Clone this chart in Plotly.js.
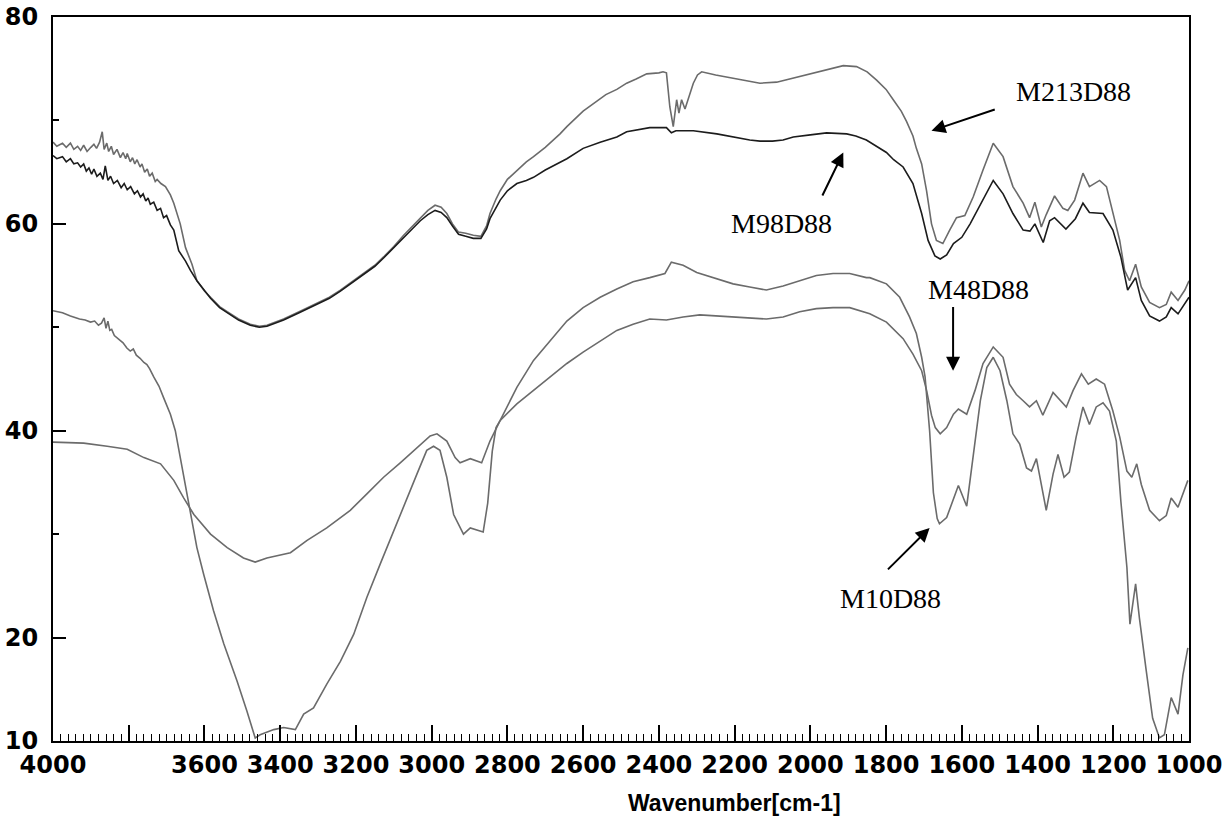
<!DOCTYPE html>
<html>
<head>
<meta charset="utf-8">
<script src="https://cdn.plot.ly/plotly-3.0.1.min.js"></script>
<style>
html,body{margin:0;padding:0;background:#fff;}
#chart{width:1231px;height:821px;}
</style>
</head>
<body>
<div id="chart"></div>
<script>
// ---- data (wavenumber cm-1, transmittance %) ----
const wn213 = [4000,3990,3975,3965,3954,3945,3935,3927,3919,3910,3900,3892,3885,3877,3870,3865,3858,3853,3846,3840,3831,3822,3815,3808,3804,3796,3790,3784,3778,3770,3765,3758,3751,3745,3738,3730,3725,3715,3703,3690,3681,3672,3664,3650,3633,3620,3600,3584,3560,3540,3510,3479,3455,3435,3410,3391,3350,3303,3270,3241,3210,3180,3150,3127,3100,3074,3050,3030,3010,2991,2975,2960,2945,2929,2910,2890,2870,2855,2846,2830,2819,2800,2775,2750,2731,2700,2661,2643,2600,2574,2540,2511,2485,2460,2432,2400,2389,2380,2371,2362,2353,2347,2340,2331,2320,2309,2298,2287,2250,2221,2180,2133,2089,2045,2001,1960,1913,1878,1850,1825,1800,1781,1760,1746,1729,1720,1706,1693,1680,1667,1650,1632,1614,1592,1570,1544,1517,1491,1465,1438,1421,1407,1390,1377,1355,1333,1320,1302,1280,1263,1236,1218,1201,1183,1170,1157,1141,1126,1104,1078,1060,1047,1029,1011,1000];
const t213 = [67.9,67.5,67.8,67.4,67.8,67.2,67.5,67.1,67.6,67.0,67.4,67.7,67.3,67.9,68.9,67.2,67.8,67.0,67.5,66.7,67.2,66.4,66.9,66.3,66.8,66.0,66.4,65.8,66.2,65.5,65.8,65.0,65.3,64.6,64.9,64.1,64.3,63.9,63.6,62.8,62.0,61.0,60.0,57.7,56.1,54.5,53.5,52.9,52.0,51.5,50.8,50.3,50.1,50.2,50.5,50.8,51.5,52.3,52.9,53.6,54.4,55.2,56.0,56.8,57.8,58.9,59.8,60.6,61.3,61.8,61.6,61.0,60.0,59.2,59.1,58.9,58.8,59.8,61.0,62.4,63.2,64.3,65.2,66.0,66.5,67.4,68.7,69.4,70.9,71.6,72.5,73.0,73.6,74.0,74.5,74.6,74.7,74.6,71.3,69.4,72.0,70.7,72.0,71.1,72.4,73.6,74.4,74.7,74.4,74.2,73.9,73.6,73.7,74.1,74.5,74.9,75.3,75.2,74.7,73.9,73.0,72.0,70.9,69.9,68.5,67.3,65.8,63.2,60.0,58.4,58.1,59.4,60.6,60.8,62.6,65.2,67.8,66.5,63.6,62.0,60.6,62.1,59.7,60.9,62.7,61.5,61.3,62.3,64.9,63.6,64.2,63.6,61.0,58.4,55.5,54.5,56.1,53.9,52.4,51.9,52.2,53.4,52.6,53.6,54.5];

const wn98 = [4000,3990,3975,3965,3954,3945,3935,3927,3919,3912,3905,3898,3892,3884,3875,3868,3862,3855,3848,3840,3830,3820,3812,3804,3795,3785,3777,3769,3762,3755,3749,3743,3734,3725,3716,3708,3700,3690,3681,3668,3650,3637,3620,3602,3584,3560,3540,3510,3479,3455,3435,3410,3391,3350,3303,3270,3241,3210,3180,3150,3127,3100,3074,3050,3030,3010,2991,2975,2960,2945,2929,2910,2890,2870,2855,2846,2830,2819,2800,2775,2750,2731,2700,2661,2643,2600,2555,2511,2485,2424,2398,2380,2367,2355,2336,2309,2247,2221,2160,2133,2100,2072,2045,2000,1957,1904,1880,1852,1830,1799,1780,1755,1729,1706,1689,1671,1657,1640,1622,1600,1578,1544,1517,1491,1465,1438,1420,1407,1385,1368,1355,1325,1300,1280,1263,1227,1201,1180,1162,1141,1126,1104,1078,1060,1047,1029,1011,1000];
const t98 = [66.6,66.3,66.5,66.0,66.3,65.8,65.9,65.5,65.8,65.1,65.4,64.8,65.3,64.6,64.9,64.3,65.6,64.2,64.6,63.9,64.2,63.5,63.9,63.3,63.6,62.9,63.2,62.6,62.9,62.2,62.5,61.9,62.1,61.3,61.5,60.6,60.8,59.9,59.4,57.4,56.4,55.5,54.5,53.6,52.8,51.9,51.4,50.7,50.2,50.0,50.1,50.4,50.7,51.4,52.2,52.8,53.5,54.3,55.1,55.9,56.7,57.7,58.7,59.6,60.3,60.9,61.3,61.1,60.6,59.8,59.0,58.8,58.6,58.6,59.5,60.5,61.6,62.3,63.2,63.9,64.2,64.5,65.2,66.0,66.3,67.3,67.9,68.4,68.9,69.3,69.3,69.3,68.8,69.0,69.0,69.0,68.7,68.5,68.1,68.0,68.0,68.1,68.4,68.6,68.8,68.7,68.5,68.1,67.6,66.9,66.2,65.5,63.9,61.0,58.4,56.9,56.6,57.0,58.1,58.7,60.0,62.3,64.2,62.9,61.0,59.4,59.3,60.0,58.2,60.3,60.6,59.5,60.5,62.0,61.1,61.0,59.4,56.8,53.6,54.8,52.6,51.1,50.6,51.0,51.9,51.3,52.3,52.9];

const wn48 = [4000,3919,3857,3804,3760,3716,3681,3655,3628,3584,3540,3497,3466,3435,3373,3329,3277,3215,3171,3127,3083,3039,3004,2986,2960,2938,2925,2898,2868,2846,2819,2775,2731,2687,2643,2600,2555,2511,2468,2424,2380,2336,2292,2247,2204,2160,2116,2072,2028,1984,1940,1896,1843,1799,1755,1729,1706,1693,1680,1670,1657,1640,1622,1609,1587,1565,1544,1517,1491,1474,1456,1438,1421,1403,1386,1359,1341,1324,1306,1284,1266,1245,1223,1201,1183,1164,1151,1138,1126,1104,1078,1060,1047,1029,1003];
const t48 = [38.9,38.8,38.5,38.2,37.4,36.8,35.2,33.5,31.9,30.0,28.7,27.7,27.3,27.7,28.2,29.4,30.6,32.3,33.9,35.5,36.9,38.4,39.5,39.7,39.0,37.4,36.9,37.3,36.9,39.0,41.0,42.6,43.9,45.2,46.5,47.6,48.7,49.7,50.3,50.8,50.7,51.0,51.2,51.1,51.0,50.9,50.8,51.0,51.5,51.8,51.9,51.9,51.3,50.5,48.9,47.4,45.8,43.9,41.5,40.3,39.7,40.3,41.6,42.1,41.6,43.9,46.5,48.1,47.1,44.5,43.5,42.9,42.3,42.9,41.5,43.7,43.0,42.3,43.9,45.5,44.5,45.0,44.5,41.9,39.4,36.1,35.5,36.8,34.8,32.3,31.3,31.8,33.5,32.6,35.2];

const wn10 = [4000,3975,3954,3930,3915,3901,3890,3880,3872,3865,3860,3855,3850,3845,3838,3831,3822,3815,3805,3796,3788,3780,3770,3760,3752,3745,3734,3720,3708,3690,3677,3664,3650,3637,3620,3602,3576,3549,3514,3488,3466,3453,3417,3391,3360,3338,3312,3277,3241,3206,3171,3136,3101,3065,3039,3013,2995,2978,2960,2942,2916,2898,2880,2864,2852,2840,2830,2819,2775,2731,2687,2643,2600,2555,2511,2468,2424,2384,2367,2336,2300,2247,2204,2160,2116,2072,2028,1984,1940,1896,1852,1843,1799,1764,1738,1720,1706,1697,1685,1675,1665,1659,1640,1622,1609,1587,1569,1551,1534,1517,1499,1481,1465,1447,1429,1416,1403,1377,1359,1346,1330,1316,1298,1280,1263,1245,1227,1210,1192,1180,1164,1156,1141,1131,1114,1096,1078,1065,1047,1029,1016,1003];
const t10 = [51.6,51.4,51.1,50.8,50.7,50.5,50.6,50.2,50.4,50.9,49.9,50.6,49.7,49.8,49.2,49.0,48.7,48.5,48.0,47.7,47.9,47.3,47.0,46.6,46.4,46.0,45.2,44.3,43.2,41.6,40.0,37.4,34.5,31.9,28.7,26.1,22.6,19.4,15.8,12.9,10.3,10.6,11.1,11.3,11.1,12.6,13.2,15.5,17.7,20.3,23.9,27.1,30.3,33.5,35.8,38.1,38.5,38.1,35.5,31.9,30.0,30.6,30.4,30.2,33.0,38.0,40.3,41.0,44.2,46.8,48.7,50.6,51.9,52.9,53.7,54.4,54.8,55.2,56.3,56.0,55.3,54.7,54.2,53.9,53.6,54.0,54.5,55.0,55.2,55.2,54.8,54.8,54.2,52.9,51.0,49.4,47.1,45.2,40.0,34.0,31.5,31.0,31.6,33.5,34.7,32.7,38.1,42.9,46.1,47.1,45.8,42.9,39.7,38.7,36.4,36.1,37.3,32.3,35.8,37.7,35.5,36.0,39.4,42.3,40.6,42.3,42.7,41.9,39.0,33.2,26.8,21.3,25.2,21.9,17.1,12.2,10.3,10.6,14.2,12.6,16.4,19.0];

const seriesNames = ["M213D88","M98D88","M48D88","M10D88"];
const xTickVals = [4000,3800,3600,3400,3200,3000,2800,2600,2400,2200,2000,1800,1600,1400,1200,1000];
const xTickText = ["4000","","3600","3400","3200","3000","2800","2600","2400","2200","2000","1800","1600","1400","1200","1000"];
const yTickVals = [10,20,40,60,80];
const yTickText = ["10","20","40","60","80"];

const gray = "#6b6b6b";
const dark = "#1c1c1c";

const traces = [
  {x: wn213, y: t213, name: seriesNames[0], line: {color: gray, width: 1.6}},
  {x: wn98,  y: t98,  name: seriesNames[1], line: {color: dark, width: 1.6}},
  {x: wn48,  y: t48,  name: seriesNames[2], line: {color: gray, width: 1.6}},
  {x: wn10,  y: t10,  name: seriesNames[3], line: {color: gray, width: 1.6}}
].map(t => Object.assign({type: "scatter", mode: "lines", hoverinfo: "skip"}, t));

const xTickFont = {family: "DejaVu Sans, sans-serif", size: 24, color: "#000", weight: "bold", stretch: "condensed"};
const yTickFont = {family: "DejaVu Sans, sans-serif", size: 24, color: "#000", weight: "bold"};
const labFont = {family: "Liberation Serif, Times New Roman, serif", size: 28, color: "#000"};

function label(text, x, y) {
  return {text: text, x: x, y: y, xref: "x", yref: "y", showarrow: false, font: labFont, xanchor: "center", yanchor: "middle"};
}
function arrow(x0, y0, x1, y1) {
  return {text: "", x: x1, y: y1, ax: x0, ay: y0, xref: "x", yref: "y", axref: "x", ayref: "y",
          showarrow: true, arrowhead: 2, arrowsize: 1.4, arrowwidth: 2, arrowcolor: "#000", standoff: 0, startstandoff: 0};
}

const layout = {
  width: 1231, height: 821,
  margin: {l: 53, r: 42, t: 17, b: 80, pad: 0},
  paper_bgcolor: "#fff", plot_bgcolor: "#fff",
  showlegend: false,
  xaxis: {
    range: [4000, 1000], autorange: false,
    tickmode: "array", tickvals: xTickVals, ticktext: xTickText,
    ticks: "inside", ticklen: 16, tickwidth: 2, tickcolor: "#000",
    minor: {dtick: 20, ticks: "inside", ticklen: 7, tickwidth: 1, tickcolor: "#000", showgrid: false},
    showgrid: false, zeroline: false,
    showline: true, linecolor: "#000", linewidth: 2, mirror: true,
    tickfont: xTickFont, ticklabelstandoff: 1
  },
  yaxis: {
    range: [10, 80], autorange: false,
    tickmode: "array", tickvals: yTickVals, ticktext: yTickText,
    ticks: "inside", ticklen: 13, tickwidth: 2, tickcolor: "#000",
    minor: {tickvals: [30, 50, 70], ticks: "inside", ticklen: 6, tickwidth: 2, tickcolor: "#000", showgrid: false},
    showgrid: false, zeroline: false,
    showline: true, linecolor: "#000", linewidth: 2, mirror: true,
    tickfont: yTickFont, ticklabelstandoff: 8
  },
  annotations: [
    label(seriesNames[0], 1305, 72.8),
    arrow(1509, 71.1, 1680, 69.0),
    label(seriesNames[1], 2076, 60.0),
    arrow(1970, 62.6, 1913, 66.9),
    label(seriesNames[2], 1555, 53.65),
    arrow(1623, 52.1, 1623, 45.8),
    label(seriesNames[3], 1788, 23.8),
    arrow(1799, 26.45, 1685, 30.6),
    {text: "Wavenumber[cm-1]", xref: "paper", yref: "paper", x: (734.5 - 53) / 1136, y: -(803 - 741) / 724,
     xanchor: "center", yanchor: "middle", showarrow: false,
     font: {family: "Liberation Sans, Arial, sans-serif", size: 23, color: "#000", weight: "bold"}}
  ]
};

Plotly.newPlot("chart", traces, layout, {displayModeBar: false, staticPlot: true});
</script>
</body>
</html>
